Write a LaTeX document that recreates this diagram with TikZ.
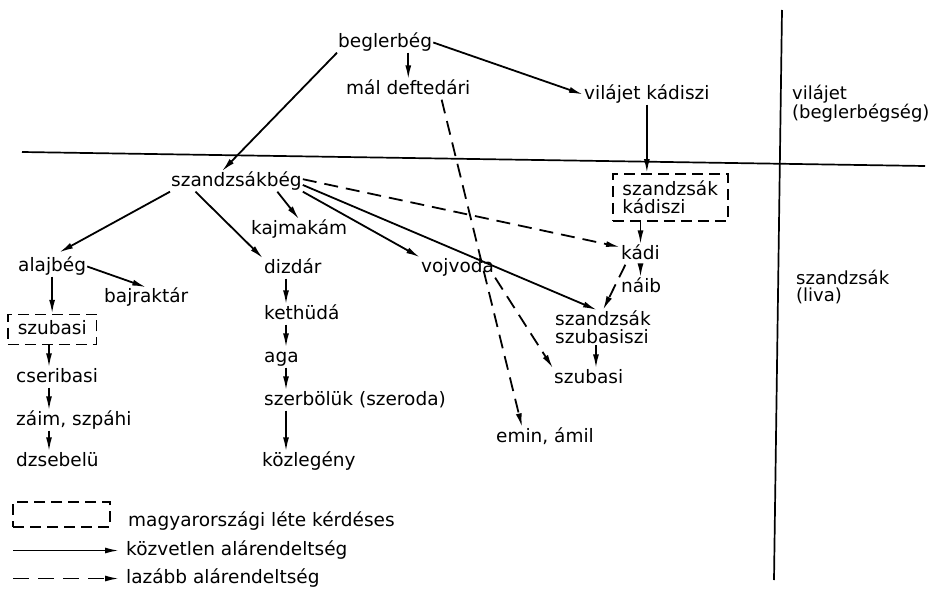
\documentclass[tikz,border=0pt]{standalone}
\usepackage{fontspec}
\setmainfont{DejaVu Sans}
\usetikzlibrary{arrows.meta}
\begin{document}
\begin{tikzpicture}[x=1pt,y=-1pt,
  lbl/.style={font=\fontsize{18.5}{17.5}\selectfont, inner sep=1pt, text height=13.5pt, text depth=4.5pt, anchor=base west},
  ml/.style={font=\fontsize{18.5}{17.5}\selectfont, inner sep=1pt, align=left, anchor=north west},
  conn/.style={line width=1.8pt, -{Latex[length=14pt,width=6pt]}},
  dconn/.style={conn, dash pattern=on 14pt off 8pt},
  dbox/.style={draw, line width=1.5pt, dash pattern=on 11pt off 6pt},
  rulestyle/.style={line width=1.7pt}]
\useasboundingbox (0,0) rectangle (932,589);
% separator rules
\coordinate (h1) at (22,152); \coordinate (h2) at (925,166);
\coordinate (v1) at (782,10); \coordinate (v2) at (774,580);
\draw[rulestyle] (h1) -- (h2);
\draw[rulestyle] (v1) -- (v2);
% nodes
\node[lbl] (beg) at (337,47) {beglerbég};
\node[lbl] (mal) at (345,94) {mál deftedári};
\node[lbl] (vk) at (583,99) {vilájet kádiszi};
\node[ml, font=\fontsize{18}{17}\selectfont] (reg1) at (791,84) {vilájet\\(beglerbégség)};
\node[lbl] (szb) at (170,186) {szandzsákbég};
\node[dbox, ml, inner xsep=9pt, inner ysep=4pt, minimum width=115pt, minimum height=47pt] (sk) at (612,173) {szandzsák\\kádiszi};
\node[lbl] (kajm) at (250,234) {kajmakám};
\node[lbl] (alaj) at (17,271) {alajbég};
\node[lbl] (bajr) at (103,302) {bajraktár};
\node[lbl, dbox, inner xsep=10pt, inner ysep=6pt] (szubL) at (7,334) {szubasi};
\node[lbl] (cser) at (15,382) {cseribasi};
\node[lbl] (zaim) at (15,425) {záim, szpáhi};
\node[lbl] (dzs) at (15,466) {dzsebelü};
\node[lbl] (dizd) at (263,273) {dizdár};
\node[lbl] (keth) at (263,319) {kethüdá};
\node[lbl] (aga) at (263,362) {aga};
\node[lbl] (szerb) at (263,405) {szerbölük (szeroda)};
\node[lbl] (kozl) at (261,466) {közlegény};
\node[lbl] (vojv) at (420,272) {vojvoda};
\node[lbl] (kadi) at (620,259) {kádi};
\node[lbl] (naib) at (620,292) {náib};
\node[ml] (ssz) at (554,310) {szandzsák\\szubasiszi};
\node[lbl] (szubR) at (553,383) {szubasi};
\node[lbl] (emin) at (495,442) {emin, ámil};
\node[ml, font=\fontsize{18}{17}\selectfont] (reg2) at (795,269) {szandzsák\\(liva)};
% legend
\node[dbox, minimum width=97pt, minimum height=25pt, inner sep=0pt] (legbox) at (61.5,514.5) {};
\node[lbl] (leg1) at (127,526) {magyarországi léte kérdéses};
\node[lbl] (leg2) at (125,555) {közvetlen alárendeltség};
\node[lbl] (leg3) at (125,583) {lazább alárendeltség};
\coordinate (l2s) at (13,550.5);
\coordinate (l3s) at (13,578.5);
\draw[conn, shorten >=6pt] (l2s) -- (leg2.west);
\draw[dconn, dash pattern=on 16pt off 9pt, shorten >=6pt] (l3s) -- (leg3.west);
% connectors
\coordinate (colL) at (49,0);
\coordinate (colM) at (286,0);
\draw[conn] (beg.south west) -- (szb.145);
\draw[conn] (beg.south -| mal.north) -- (mal.north);
\draw[conn] (beg.east) -- (vk.west);
\draw[conn] (vk.south) -- (vk.south |- sk.north);
\draw[dconn] (mal.-17) -- (emin.156);
\draw[conn, shorten >=8pt] (szb.south west) -- (alaj.north);
\draw[conn] (szb.194) -- (dizd.north west);
\draw[conn] (szb.-14) -- (kajm.north);
\draw[conn] (szb.south east) -- (vojv.north west);
\draw[conn] (szb.-3) -- ([xshift=-6pt]ssz.north);
\draw[dconn] (szb.2) -- (kadi.160);
\draw[conn] (kadi.north |- sk.south) -- (kadi.north);
\draw[conn] (kadi.south) -- (kadi.south |- naib.north);
\draw[dconn] (kadi.-146) -- (ssz.north);
\draw[dconn] (vojv.south east) -- (szubR.north west);
\draw[conn] ([xshift=-7pt]ssz.south) -- ([xshift=-7pt]ssz.south |- szubR.north);
\draw[conn] (alaj.east) -- (bajr.north);
\draw[conn] (alaj.south) -- (alaj.south |- szubL.north);
\draw[conn] (colL |- szubL.south) -- (colL |- cser.north);
\draw[conn] (colL |- cser.south) -- (colL |- zaim.north);
\draw[conn] (colL |- zaim.south) -- (colL |- dzs.north);
\draw[conn] (colM |- dizd.south) -- (colM |- keth.north);
\draw[conn] (colM |- keth.south) -- (colM |- aga.north);
\draw[conn] (colM |- aga.south) -- (colM |- szerb.north);
\draw[conn] (colM |- szerb.south) -- (colM |- kozl.north);
\end{tikzpicture}
\end{document}
